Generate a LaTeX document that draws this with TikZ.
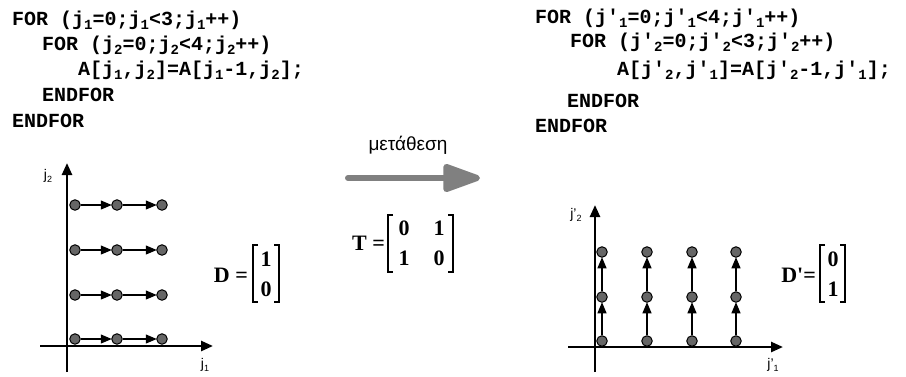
\documentclass[tikz,border=0pt]{standalone}
\usepackage{fontspec}
\setmainfont{Liberation Sans}
\newfontfamily\codefont{Liberation Mono}
\newfontfamily\timesfont{Liberation Serif}
\usetikzlibrary{arrows.meta}
\definecolor{ptgray}{RGB}{102,102,102}
\definecolor{arrgray}{RGB}{128,128,128}
\newcommand{\csub}[1]{\raisebox{-4pt}{\fontsize{14}{14}\selectfont #1}}
\newcommand{\lsub}[1]{\raisebox{-3.5pt}{\fontsize{9}{9}\selectfont #1}}
\newcommand{\pr}{\symbol{39}}
\tikzset{
  code/.style={anchor=base west, inner sep=0pt, font=\codefont\bfseries\fontsize{20}{24}\selectfont},
  pt/.style={circle, draw=black, line width=1pt, fill=ptgray, minimum size=10.5pt, inner sep=0pt},
  arr/.style={line width=1.2pt, -{Triangle[length=11pt,width=9pt]}, shorten >=-0.5pt},
  axis/.style={line width=2.5pt, -{Triangle[length=12pt,width=10pt]}},
  axlab/.style={inner sep=0pt, font=\fontsize{14}{14}\selectfont},
  mat/.style={inner sep=0pt, font=\timesfont\bfseries\fontsize{22}{22}\selectfont},
  brk/.style={line width=1.2pt},
}
\begin{document}
\begin{tikzpicture}[x=1pt,y=-1pt]
\path[use as bounding box] (0,0) rectangle (906,376);
% left code
\node[code] (lc1) at (12,25) {FOR (j\csub1=0;j\csub1<3;j\csub1++)};
\node[code] (lc2) at (42,50) {FOR (j\csub2=0;j\csub2<4;j\csub2++)};
\node[code] (lc3) at (78,75) {A[j\csub1,j\csub2]=A[j\csub1-1,j\csub2];};
\node[code] (lc4) at (42,101) {ENDFOR};
\node[code] (lc5) at (12,127) {ENDFOR};
% right code
\node[code] (rc1) at (535,23) {FOR (j\pr\csub1=0;j\pr\csub1<4;j\pr\csub1++)};
\node[code] (rc2) at (570,47) {FOR (j\pr\csub2=0;j\pr\csub2<3;j\pr\csub2++)};
\node[code] (rc3) at (617,75) {A[j\pr\csub2,j\pr\csub1]=A[j\pr\csub2-1,j\pr\csub1];};
\node[code] (rc4) at (567,107) {ENDFOR};
\node[code] (rc5) at (535,132) {ENDFOR};
% left axes
\coordinate (LYa) at (67,372);
\coordinate (LYb) at (67,163);
\coordinate (LXa) at (40,346);
\coordinate (LXb) at (213,346);
\draw[axis] (LYa) -- (LYb);
\draw[axis] (LXa) -- (LXb);
\node[axlab] (lj2) at (48,176) {j\lsub{2}};
\node[axlab] (lj1) at (205,365) {j\lsub{1}};
% left points
\foreach \r/\y in {1/339,2/295,3/250,4/205}{
  \foreach \c/\x in {1/75,2/117,3/162}{
    \node[pt] (L\c\r) at (\x,\y) {};
  }
  \draw[arr] (L1\r) -- (L2\r);
  \draw[arr] (L2\r) -- (L3\r);
}
% D matrix
\node[mat, anchor=east] (D) at (248,275) {D =};
\node[mat] (D1) at (266,259) {1};
\node[mat] (D2) at (266,289) {0};
\draw[brk] (258,245) -- (253,245) -- (253,302) -- (258,302);
\draw[brk] (274,245) -- (279,245) -- (279,302) -- (274,302);
% middle
\node[inner sep=0pt, font=\fontsize{19}{19}\selectfont] (perm) at (408,145) {μετάθεση};
\coordinate (A1) at (348,178);
\coordinate (A2) at (480,178);
\draw[line width=6pt, arrgray, line cap=round, -{Triangle[length=43pt,width=29pt,round=false]}] (A1) -- (A2);
\node[mat, anchor=east] (T) at (385,243) {T =};
\node[mat] (T11) at (404,228) {0};
\node[mat] (T12) at (439,228) {1};
\node[mat] (T21) at (404,258) {1};
\node[mat] (T22) at (439,258) {0};
\draw[brk] (393,215) -- (388,215) -- (388,272) -- (393,272);
\draw[brk] (448,215) -- (453,215) -- (453,272) -- (448,272);
% right axes
\coordinate (RYa) at (595,372);
\coordinate (RYb) at (595,205);
\coordinate (RXa) at (568,347);
\coordinate (RXb) at (783,347);
\draw[axis] (RYa) -- (RYb);
\draw[axis] (RXa) -- (RXb);
\node[axlab] (rj2) at (576,215) {j\pr\lsub{2}};
\node[axlab] (rj1) at (773,365) {j\pr\lsub{1}};
\foreach \c/\x in {1/602,2/647,3/692,4/736}{
  \foreach \r/\y in {1/341,2/297,3/252}{
    \node[pt] (R\c\r) at (\x,\y) {};
  }
  \draw[arr] (R\c1) -- (R\c2);
  \draw[arr] (R\c2) -- (R\c3);
}
% D' matrix
\node[mat, anchor=east] (Dp) at (816,275) {D\pr=};
\node[mat] (Dp1) at (833,259) {0};
\node[mat] (Dp2) at (833,289) {1};
\draw[brk] (825,245) -- (820,245) -- (820,302) -- (825,302);
\draw[brk] (840,245) -- (845,245) -- (845,302) -- (840,302);
\end{tikzpicture}
\end{document}
